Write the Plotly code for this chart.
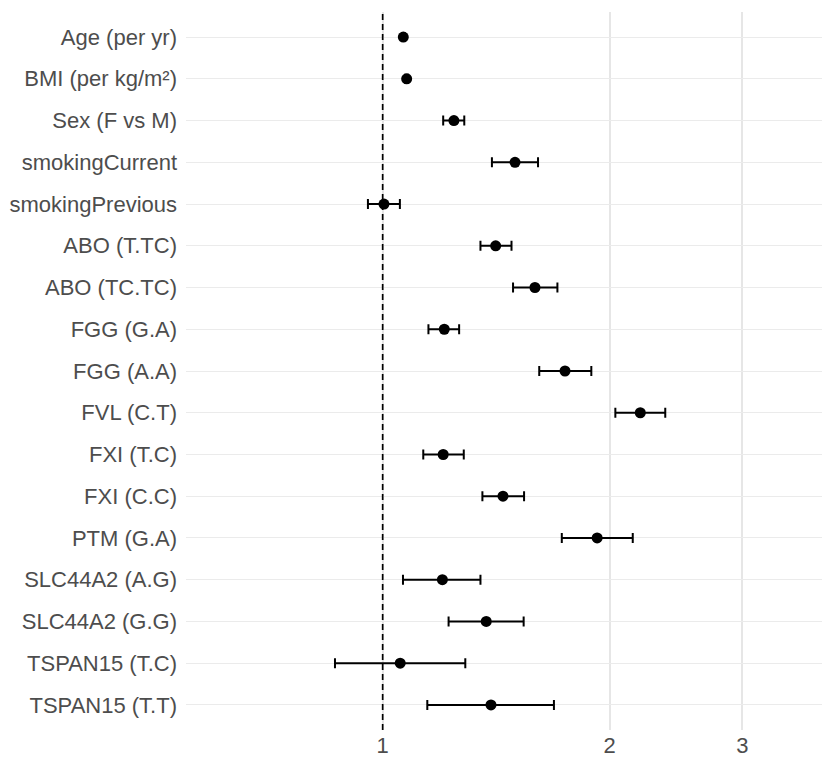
import plotly.graph_objects as go

labels = ["Age (per yr)", "BMI (per kg/m²)", "Sex (F vs M)", "smokingCurrent", "smokingPrevious",
          "ABO (T.TC)", "ABO (TC.TC)", "FGG (G.A)", "FGG (A.A)", "FVL (C.T)", "FXI (T.C)", "FXI (C.C)",
          "PTM (G.A)", "SLC44A2 (A.G)", "SLC44A2 (G.G)", "TSPAN15 (T.C)", "TSPAN15 (T.T)"]
estimate = [1.065, 1.076, 1.243, 1.498, 1.004, 1.412, 1.592, 1.207, 1.745, 2.196, 1.203, 1.444,
            1.925, 1.200, 1.372, 1.055, 1.392]
lower = [1.061, 1.071, 1.203, 1.396, 0.956, 1.348, 1.489, 1.150, 1.613, 2.035, 1.132, 1.356,
         1.728, 1.064, 1.223, 0.8645, 1.146]
upper = [1.069, 1.081, 1.283, 1.607, 1.054, 1.482, 1.705, 1.263, 1.891, 2.370, 1.281, 1.540,
         2.146, 1.348, 1.538, 1.287, 1.687]
x_ticks = [1, 2, 3]
x_ticktext = ["1", "2", "3"]

err_plus = [u - e for u, e in zip(upper, estimate)]
err_minus = [e - l for e, l in zip(estimate, lower)]

fig = go.Figure()
fig.add_trace(go.Scatter(
    x=estimate, y=labels, mode="markers",
    marker=dict(color="black", size=11),
    error_x=dict(type="data", symmetric=False, array=err_plus, arrayminus=err_minus,
                 color="black", thickness=2, width=5),
    showlegend=False,
))

fig.add_shape(type="line", xref="x", yref="paper", x0=1, x1=1, y0=0, y1=1,
              line=dict(color="black", width=1.7, dash="6px,4px"))

font_color = "#4D4D4D"
fig.update_layout(
    width=822, height=757,
    margin=dict(l=186, r=0, t=12, b=27, pad=0),
    paper_bgcolor="white", plot_bgcolor="white",
    font=dict(family="Liberation Sans, Arial, sans-serif", size=22, color=font_color),
    xaxis=dict(type="log", range=[-0.2608, 0.5826], tickvals=x_ticks, ticktext=x_ticktext,
               showgrid=True, gridcolor="#E6E6E6", gridwidth=1.6, zeroline=False,
               showline=False, ticks="", automargin=False,
               tickfont=dict(size=22, color=font_color)),
    yaxis=dict(type="category", categoryorder="array", categoryarray=labels,
               range=[16.6, -0.6], showgrid=True, gridcolor="#EBEBEB", gridwidth=1.1,
               zeroline=False, showline=False, ticks="", ticklabelstandoff=8, automargin=False,
               tickfont=dict(size=22, color=font_color)),
)

fig.write_html("out.html")
